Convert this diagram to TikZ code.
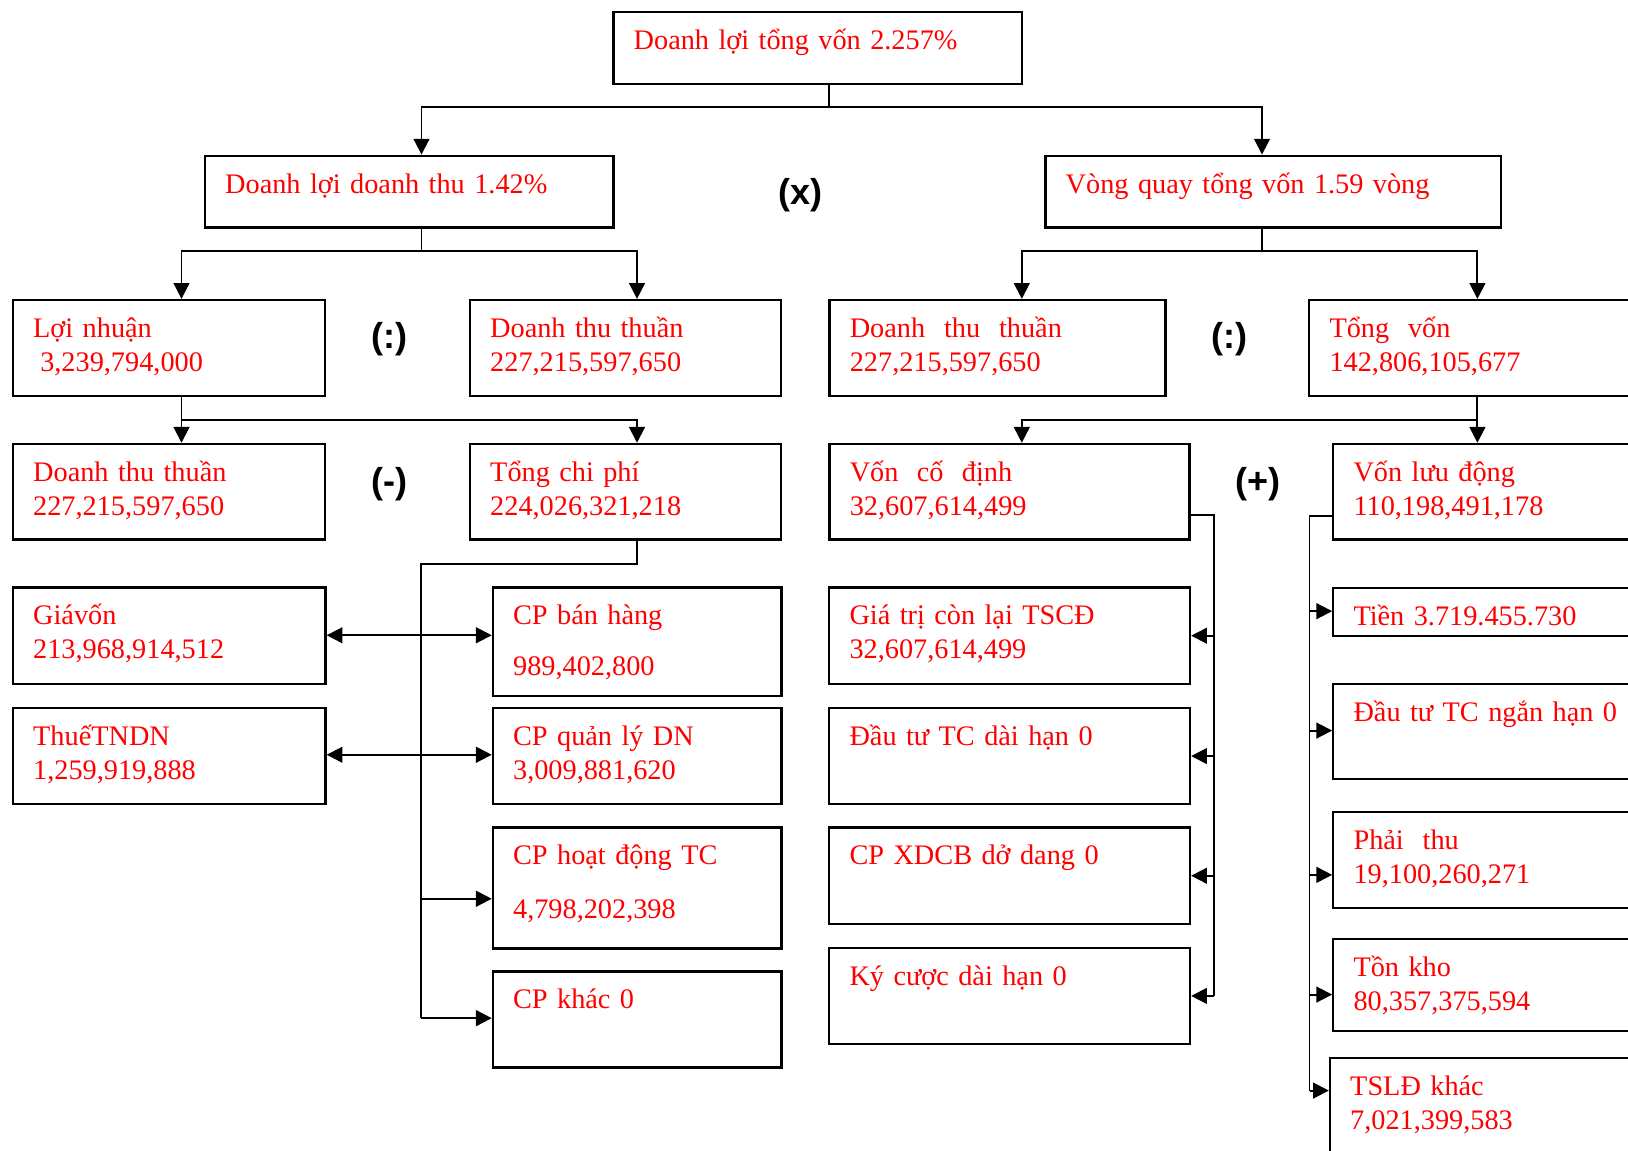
\documentclass[tikz,border=0pt]{standalone}
\usepackage{fontspec}
\setmainfont{Liberation Serif}
\newfontfamily\opfont{Liberation Sans}
\usepackage{tikz}
\usetikzlibrary{positioning,fit,arrows.meta}

\tikzset{
  box/.style={draw, line width=1.3pt, inner sep=0pt},
  txt/.style={anchor=base west, inner sep=0pt, text=red, text width=12cm, align=left,
    font=\fontsize{16.1}{19.3}\selectfont},
  op/.style={font=\opfont\bfseries\fontsize{20.5}{24}\selectfont},
  link/.style={line width=1.1pt},
  arr/.style={line width=1.1pt, -{Triangle[length=9pt,width=9pt]}},
  dbl/.style={line width=1.1pt, {Triangle[length=9pt,width=9pt]}-{Triangle[length=9pt,width=9pt]}}
}

\begin{document}
\begin{tikzpicture}[x=0.02cm, y=-0.02cm]
\useasboundingbox (0,0) rectangle (1628,1150);
\clip (0,0) rectangle (1628,1150);

% boxes
\foreach \n/\a/\b/\c/\d in {dlv/613.5/11.8/1021.8/83.9, dldt/205/155.7/613.5/227.5,
    vq/1045.5/155.7/1501/227.5, ln/13/300/325/395.7, dtt1/470/300/781/395.7,
    dtt2/829.6/300/1165.4/395.7, tv/1309.3/300/1660/395.7, dtt3/13/443.9/325/539.6,
    tcp/470/443.9/781/539.6, vcd/829.6/443.9/1189.6/539.6, vld/1333.3/443.9/1660/539.6,
    gv/13/587.5/325.5/683.9, thue/13/708/325.5/804.1, cpbh/492.9/587.5/781.6/696,
    cpql/492.9/708/781.6/804.1, cphd/492.9/827.5/781.6/948.4, cpk/492.9/971.5/781.6/1067.5,
    gtcl/829.3/587.5/1190/683.9, dtdh/829.3/708/1190/804.1, xdcb/829.3/827.5/1190/924,
    kc/829.3/948/1190/1043.8, tien/1333.3/588.3/1660/635.7, dtnh/1333.3/684/1660/779.3,
    pthu/1333.3/812/1660/908, tk/1333.3/939.3/1660/1030.7, tsld/1330/1058.3/1660/1180}
  \node[box, fit={(\a,\b) (\c,\d)}] (\n) {};

% texts
\foreach \n/\t in {dlv/{Doanh lợi tổng vốn 2.257\%}, dldt/{Doanh lợi doanh thu 1.42\%},
    vq/{Vòng quay tổng vốn 1.59 vòng}, ln/{Lợi nhuận\\\hspace*{0.25em}3,239,794,000},
    dtt1/{Doanh thu thuần\\227,215,597,650}, dtt2/{Doanh~~thu~~thuần\\227,215,597,650},
    tv/{Tổng~~vốn\\142,806,105,677}, dtt3/{Doanh thu thuần\\227,215,597,650},
    tcp/{Tổng chi phí\\224,026,321,218}, vcd/{Vốn\hspace{0.65em}cố\hspace{0.65em}định\\32,607,614,499},
    vld/{Vốn lưu động\\110,198,491,178}, gv/{Giávốn\\213,968,914,512},
    thue/{ThuếTNDN\\1,259,919,888}, cpbh/{CP bán hàng\\[9.6pt]989,402,800},
    cpql/{CP quản lý DN\\3,009,881,620}, cphd/{CP hoạt động TC\\[11.5pt]4,798,202,398},
    cpk/{CP khác 0}, gtcl/{Giá trị còn lại TSCĐ\\32,607,614,499},
    dtdh/{Đầu tư TC dài hạn 0}, xdcb/{CP XDCB dở dang 0}, kc/{Ký cược dài hạn 0},
    tien/{Tiền 3.719.455.730}, dtnh/{Đầu tư TC ngắn hạn 0},
    pthu/{Phải~~thu\\19,100,260,271}, tk/{Tồn kho\\80,357,375,594},
    tsld/{TSLĐ khác\\7,021,399,583}}
  \node[txt] (\n-t) at ([shift={(21,38.5)}]\n.north west) {\t};

\node[op] (mul) at (800.5,195) {(x)};
\node[op] (div1) at (389,339) {(:)};
\node[op] (sub) at (389.7,484) {(-)};
\node[op] (div2) at (1229,339) {(:)};
\node[op] (add) at (1257.5,484) {(+)};

% forks
\coordinate (f0) at (829,107);
\coordinate (f1) at (421.5,251.4);
\coordinate (f2) at (1262,251.4);
\coordinate (f3) at (181.5,419.6);
\coordinate (f4) at (1477.4,419.6);
\coordinate (f5) at (637,564.1);
\coordinate (f6) at (421.4,564.1);
\coordinate (f7) at (1213.7,515.4);
\coordinate (f8) at (1309.5,515.7);
\coordinate (f9) at (1021.8,251.4);

\draw[link] (dlv.south -| f0) -- (f0);
\draw[arr] (f0) -| (dldt.north -| f1);
\draw[arr] (f0) -| (vq.north -| f2);

\draw[link] (dldt.south -| f1) -- (f1);
\draw[arr] (f1) -| (ln.north -| f3);
\draw[arr] (f1) -| (dtt1.north -| f5);

\draw[link] (vq.south -| f2) -- (f2);
\draw[arr] (f2) -| (dtt2.north -| f9);
\draw[arr] (f2) -| (tv.north -| f4);

\draw[arr] (ln.south -| f3) -- (dtt3.north -| f3);
\draw[arr] (f3) -| (tcp.north -| f5);
\draw[arr] (tv.south -| f4) -- (vld.north -| f4);
\draw[arr] (f4) -| (vcd.north -| f9);

% chi phi
\foreach \n/\d in {cpbh/48.9, cpql/47.9, cphd/72.4, cpk/47.8}
  \path ([shift={(0,\d)}]\n.north west) coordinate (\n-in);
\draw[link] (tcp.south -| f5) -- (f5) -- (f6) -- (f6 |- cpk-in);
\draw[dbl] (gv.east |- cpbh-in) -- (cpbh-in);
\draw[dbl] (thue.east |- cpql-in) -- (cpql-in);
\foreach \n in {cphd,cpk}
  \draw[arr] (f6 |- \n-in) -- (\n-in);

% von co dinh
\draw[link] (vcd.east |- f7) -- (f7) -- (f7 |- kc.east);
\foreach \n in {gtcl,dtdh,xdcb,kc}
  \draw[arr] (f7 |- \n.east) -- (\n.east);

% von luu dong
\foreach \n/\d in {tien/24, dtnh/47.7, pthu/64, tk/56.4, tsld/33.4}
  \path ([shift={(0,\d)}]\n.north west) coordinate (\n-in);
\draw[link] (vld.west |- f8) -- (f8) -- (f8 |- tsld-in);
\foreach \n in {tien,dtnh,pthu,tk,tsld}
  \draw[arr] (f8 |- \n-in) -- (\n-in);

\end{tikzpicture}
\end{document}
